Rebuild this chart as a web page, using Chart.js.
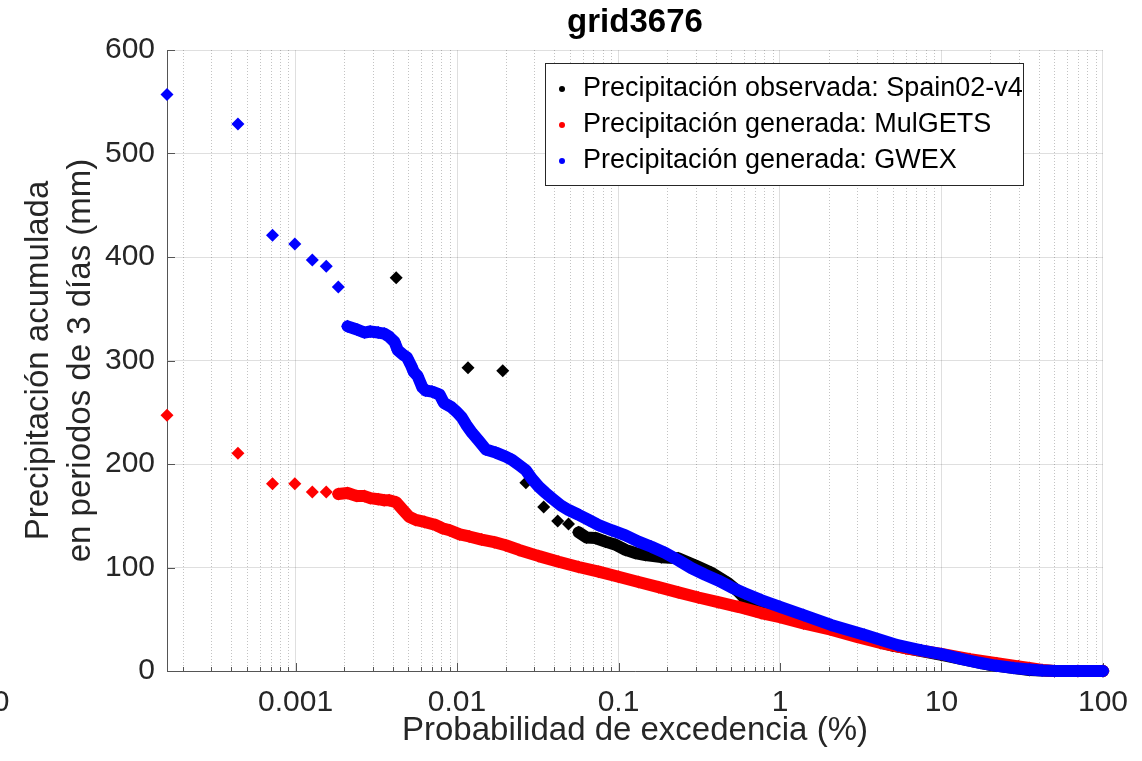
<!DOCTYPE html>
<html>
<head>
<meta charset="utf-8">
<script src="https://cdn.jsdelivr.net/npm/chart.js@4.4.1/dist/chart.umd.min.js"></script>
<style>
html,body{margin:0;padding:0;background:#ffffff;}
#wrap{width:1142px;height:761px;position:relative;}
</style>
</head>
<body>
<div id="wrap"><canvas id="c" width="1142" height="761"></canvas></div>
<script>
// ---------- data ----------
const chartTitle = 'grid3676';
const seriesNames = [
  'Precipitación observada: Spain02-v4',
  'Precipitación generada: MulGETS',
  'Precipitación generada: GWEX'
];
const xAxisTitle = 'Probabilidad de excedencia (%)';
const yAxisTitle = ['Precipitación acumulada', 'en periodos de 3 días (mm)'];
const xTickValues = [0.001, 0.01, 0.1, 1, 10, 100];
const xTickLabels = ['0.001', '0.01', '0.1', '1', '10', '100'];
const yTickValues = [0, 100, 200, 300, 400, 500, 600];
const yTickLabels = ['0', '100', '200', '300', '400', '500', '600'];

// observed (Spain02-v4)
const obsX = [0.0042, 0.0117, 0.0192, 0.0267, 0.0344, 0.042, 0.049, 0.0566, 0.0634, 0.072,
  0.0831, 0.0959, 0.1105, 0.127, 0.147, 0.184, 0.2345, 0.299, 0.375, 0.477,
  0.55, 0.634, 0.73, 1.0, 1.4, 2.0, 3.0, 5.0, 10, 20, 35, 50, 100];
const obsY = [380, 293, 290, 182, 158.5, 145, 142, 134, 129, 128.5,
  125, 122, 117, 114, 112, 110, 109, 102, 95, 85,
  77, 67, 62, 58, 52, 43, 34, 24.5, 15.5, 6, 1, 0, 0];

// generated (MulGETS)
const mulX = [0.00016, 0.00044, 0.00072, 0.00099, 0.00127, 0.00155,
  0.00184, 0.0021, 0.0024, 0.00267, 0.0029, 0.00325, 0.00354, 0.0038, 0.0042, 0.0046,
  0.00505, 0.00555, 0.0063, 0.0074, 0.0081, 0.0090, 0.0104, 0.0119, 0.0142, 0.017,
  0.020, 0.0242, 0.0321, 0.0426, 0.0566, 0.0753, 0.1, 0.133, 0.177, 0.2345,
  0.312, 0.414, 0.55, 0.764, 1.0, 1.4, 2.07, 3.0, 4.2, 6.0,
  10, 15, 22, 30, 35, 42, 50, 70, 100];
const mulY = [247, 210.5, 181, 181, 173, 173,
  171, 172, 169, 169, 167, 166, 165, 165, 163, 156,
  149, 146, 144, 141, 138, 136, 132, 130, 127, 124.5,
  121.5, 117, 111, 105.5, 100.5, 96, 91, 86, 81, 76,
  71, 66.5, 62, 56, 52, 46, 40, 33, 27, 22,
  16.5, 11.5, 7.5, 4.5, 3, 1, 0, 0, 0];

// generated (GWEX)
const gwexX = [0.00016, 0.00044, 0.00072, 0.00099, 0.00127, 0.00155, 0.00184,
  0.0021, 0.0024, 0.00267, 0.0029, 0.00325, 0.00354, 0.0038, 0.0041, 0.0043, 0.0046,
  0.0049, 0.0052, 0.0054, 0.0057, 0.0061, 0.0064, 0.0070, 0.0078, 0.0083, 0.0092,
  0.0100, 0.0107, 0.0114, 0.0124, 0.0137, 0.0151, 0.0174, 0.0201, 0.0219, 0.0242,
  0.0267, 0.0290, 0.0321, 0.0354, 0.0386, 0.0439, 0.0491, 0.0566, 0.0653, 0.0753,
  0.0906, 0.1105, 0.133, 0.160, 0.195, 0.2345, 0.282, 0.344, 0.414, 0.498,
  0.608, 0.764, 1.0, 1.4, 2.07, 3.33, 5.35, 7.5, 10, 13,
  17.5, 22, 28, 35, 42, 50, 70, 100];
const gwexY = [557, 528.5, 421, 412.5, 397, 391, 371,
  333, 330, 327, 328, 327, 326, 323, 318, 310, 306,
  303, 295, 289, 285, 274, 271, 270, 267, 259, 255,
  250, 245, 238, 230, 222, 214, 211, 207, 204, 199,
  194, 186, 178, 172, 167, 160, 155.5, 151, 146, 141,
  136, 131, 125, 120, 114, 107, 99.5, 93, 87.5, 81,
  75, 68.5, 62, 54, 44.5, 35, 25, 20, 16.4, 12,
  7.7, 5, 2.9, 1.5, 0.5, 0, 0, 0];

// probability from which the dots of each series merge into a continuous band
const mergeFrom = [0.055, 0.0018, 0.002];
const seriesColors = ['#000000', '#ff0000', '#0000ff'];

// ---------- chart ----------
const FONT = "'Liberation Sans', Arial, Helvetica, sans-serif";
const AXIS_COLOR = '#262626';

function makeDataset(i, xs, ys, order) {
  const color = seriesColors[i];
  const from = mergeFrom[i];
  return {
    label: seriesNames[i],
    data: xs.map((x, k) => ({x: x, y: ys[k]})),
    showLine: true,
    borderColor: color,
    backgroundColor: color,
    borderWidth: 12,
    borderCapStyle: 'round',
    borderJoinStyle: 'round',
    pointStyle: 'rectRot',
    pointRadius: 6.5,
    pointHoverRadius: 6.5,
    pointBorderWidth: 0,
    clip: false,
    order: order,
    segment: {
      borderColor: ctx => (ctx.p0.parsed.x >= from ? color : 'rgba(0,0,0,0)')
    }
  };
}

const axesPlugin = {
  id: 'matlabAxes',
  beforeDatasetsDraw(chart) {
    const {ctx, chartArea: a, scales} = chart;
    const x = scales.x, y = scales.y;
    ctx.save();
    // minor dotted vertical grid
    ctx.strokeStyle = 'rgba(38,38,38,0.28)';
    ctx.lineWidth = 1;
    ctx.setLineDash([1, 2]);
    for (let e = -4; e <= 1; e++) {
      for (let m = 2; m <= 9; m++) {
        const v = m * Math.pow(10, e);
        if (v < x.min || v > x.max) continue;
        const px = Math.round(x.getPixelForValue(v)) + 0.5;
        ctx.beginPath();
        ctx.moveTo(px, a.top);
        ctx.lineTo(px, a.bottom);
        ctx.stroke();
      }
    }
    ctx.setLineDash([]);
    // axis lines
    ctx.strokeStyle = '#555555';
    ctx.beginPath();
    ctx.moveTo(Math.round(a.left) + 0.5, a.top);
    ctx.lineTo(Math.round(a.left) + 0.5, Math.round(a.bottom) + 0.5);
    ctx.lineTo(a.right, Math.round(a.bottom) + 0.5);
    ctx.stroke();
    // inward ticks
    ctx.beginPath();
    for (let e = -4; e <= 2; e++) {
      for (let m = 1; m <= 9; m++) {
        const v = m * Math.pow(10, e);
        if (v < x.min || v > x.max * 1.0001) continue;
        const px = Math.round(x.getPixelForValue(v)) + 0.5;
        const len = m === 1 ? 8 : 4;
        ctx.moveTo(px, a.bottom);
        ctx.lineTo(px, a.bottom - len);
      }
    }
    yTickValues.forEach(v => {
      const py = Math.round(y.getPixelForValue(v)) + 0.5;
      ctx.moveTo(a.left, py);
      ctx.lineTo(a.left + 8, py);
    });
    ctx.stroke();
    ctx.restore();
  },
  afterDraw(chart) {
    const {ctx} = chart;
    ctx.save();
    // stray cut-off "0" tick label at the far left
    ctx.fillStyle = AXIS_COLOR;
    ctx.font = '30px ' + FONT;
    ctx.textAlign = 'center';
    ctx.textBaseline = 'middle';
    ctx.fillText('0', 1, 703);
    // legend
    const bx = 545.5, by = 63.5, bw = 478, bh = 122;
    ctx.fillStyle = '#ffffff';
    ctx.fillRect(bx, by, bw, bh);
    ctx.strokeStyle = '#262626';
    ctx.lineWidth = 1;
    ctx.strokeRect(bx, by, bw, bh);
    const rows = [89, 125, 161];
    ctx.font = '27px ' + FONT;
    ctx.textAlign = 'left';
    ctx.textBaseline = 'middle';
    seriesNames.forEach((name, i) => {
      ctx.fillStyle = seriesColors[i];
      ctx.beginPath();
      ctx.arc(562, rows[i], 3, 0, Math.PI * 2);
      ctx.fill();
      ctx.fillStyle = '#000000';
      ctx.fillText(name, 583, rows[i]);
    });
    ctx.restore();
  }
};

new Chart(document.getElementById('c'), {
  type: 'scatter',
  data: {
    datasets: [
      makeDataset(0, obsX, obsY, 3),
      makeDataset(1, mulX, mulY, 2),
      makeDataset(2, gwexX, gwexY, 1)
    ]
  },
  options: {
    responsive: false,
    animation: false,
    devicePixelRatio: 1,
    events: [],
    layout: {padding: {left: 0, right: 36, top: 0, bottom: 0}},
    plugins: {
      legend: {display: false},
      tooltip: {enabled: false},
      title: {
        display: true,
        text: chartTitle,
        fullSize: false,
        color: '#000000',
        font: {family: FONT, size: 33, weight: 'bold', lineHeight: 1.2},
        padding: {top: 3, bottom: 7.4}
      }
    },
    scales: {
      x: {
        type: 'logarithmic',
        min: 0.00016,
        max: 100,
        afterBuildTicks: s => { s.ticks = xTickValues.map(v => ({value: v, major: true})); },
        afterFit: s => { s.height = 90; },
        ticks: {
          autoSkip: false,
          maxRotation: 0,
          padding: 14,
          color: AXIS_COLOR,
          font: {family: FONT, size: 30},
          callback: (v, i) => xTickLabels[i]
        },
        grid: {color: 'rgba(38,38,38,0.15)', lineWidth: 1, drawTicks: false},
        border: {display: false},
        title: {
          display: true,
          text: xAxisTitle,
          color: AXIS_COLOR,
          font: {family: FONT, size: 33, lineHeight: 1.2},
          padding: {top: 0, bottom: 10.6}
        }
      },
      y: {
        type: 'linear',
        min: 0,
        max: 600,
        afterBuildTicks: s => { s.ticks = yTickValues.map(v => ({value: v})); },
        afterFit: s => { s.width = 167; },
        ticks: {
          padding: 12,
          color: AXIS_COLOR,
          font: {family: FONT, size: 30},
          callback: (v, i) => yTickLabels[i]
        },
        grid: {color: 'rgba(38,38,38,0.15)', lineWidth: 1, drawTicks: false},
        border: {display: false},
        title: {
          display: true,
          text: yAxisTitle,
          color: AXIS_COLOR,
          font: {family: FONT, size: 33, lineHeight: 42 / 33},
          padding: {top: 17.6, bottom: 0}
        }
      }
    }
  },
  plugins: [axesPlugin]
});
</script>
</body>
</html>
